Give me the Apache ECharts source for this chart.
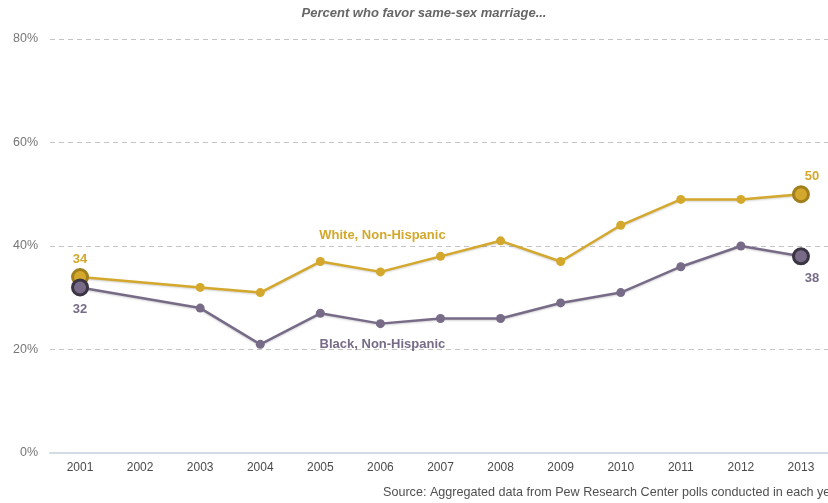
<!DOCTYPE html>
<html>
<head>
<meta charset="utf-8">
<script src="https://cdn.jsdelivr.net/npm/echarts@6/dist/echarts.min.js"></script>
<style>
html,body{margin:0;padding:0;background:#fff;overflow:hidden;}
#chart{width:840px;height:503px;}
</style>
</head>
<body>
<div id="chart"></div>
<script>
const years = ['2001','2002','2003','2004','2005','2006','2007','2008','2009','2010','2011','2012','2013'];
const whiteValues = [34, null, 32, 31, 37, 35, 38, 41, 37, 44, 49, 49, 50];
const blackValues = [32, null, 28, 21, 27, 25, 26, 26, 29, 31, 36, 40, 38];
const yTicks = [0, 20, 40, 60, 80];
const whiteName = 'White, Non-Hispanic';
const blackName = 'Black, Non-Hispanic';
const titleText = 'Percent who favor same-sex marriage...';
const sourceText = 'Source: Aggregated data from Pew Research Center polls conducted in each year';

const GOLD = '#d4a82c';
const GOLD_DARK = '#a07f1c';
const PURPLE = '#776b88';
const PURPLE_DARK = '#3b3443';
const FONT = '"Liberation Sans", Arial, Helvetica, sans-serif';

function buildData(values, color, darkColor, nameLabelIdx, nameText, nameOffsetY, endPos, endDist) {
  const last = values.length - 1;
  return values.map((v, i) => {
    if (v === null) return null;
    const item = { value: v };
    if (i === 0 || i === last) {
      item.symbolSize = 15;
      item.itemStyle = { color: color, borderColor: darkColor, borderWidth: 3 };
      item.label = {
        show: true,
        position: endPos,
        distance: endDist,
        color: color,
        fontWeight: 'bold',
        fontSize: 13,
        fontFamily: FONT,
        formatter: String(v),
        offset: i === last ? [11, 0] : [0, 0]
      };
    } else if (i === nameLabelIdx) {
      item.label = {
        show: true,
        position: 'inside',
        offset: [2, nameOffsetY],
        color: color,
        fontWeight: 'bold',
        fontSize: 13,
        fontFamily: FONT,
        formatter: nameText
      };
    }
    return item;
  });
}

const chart = echarts.init(document.getElementById('chart'), null, { renderer: 'canvas' });
const option = {
  animation: false,
  backgroundColor: '#ffffff',
  grid: { left: 50, right: 9, top: 39, bottom: 50, containLabel: false },
  xAxis: {
    type: 'category',
    data: years,
    boundaryGap: true,
    axisLine: { show: true, lineStyle: { color: '#d3dbe6', width: 2 } },
    axisTick: { show: false },
    axisLabel: { color: '#4a4a4a', fontSize: 12, fontFamily: FONT, margin: 9 },
    splitLine: { show: false }
  },
  yAxis: {
    type: 'value',
    min: yTicks[0],
    max: yTicks[yTicks.length - 1],
    interval: 20,
    axisLine: { show: false },
    axisTick: { show: false },
    axisLabel: {
      color: '#777777',
      fontSize: 12.5,
      fontFamily: FONT,
      margin: 12,
      formatter: v => v + '%'
    },
    splitLine: {
      show: true,
      lineStyle: { color: '#c4c4c4', type: [5, 4], width: 1 }
    }
  },
  series: [
    {
      name: whiteName,
      type: 'line',
      connectNulls: true,
      data: buildData(whiteValues, GOLD, GOLD_DARK, 5, whiteName, -36, 'top', 2),
      symbol: 'circle',
      symbolSize: 9,
      itemStyle: { color: GOLD },
      lineStyle: { color: GOLD, width: 2.5, shadowColor: 'rgba(0,0,0,0.18)', shadowBlur: 2, shadowOffsetY: 1 },
      z: 3
    },
    {
      name: blackName,
      type: 'line',
      connectNulls: true,
      data: buildData(blackValues, PURPLE, PURPLE_DARK, 5, blackName, 21, 'bottom', 7),
      symbol: 'circle',
      symbolSize: 9,
      itemStyle: { color: PURPLE },
      lineStyle: { color: PURPLE, width: 2.5, shadowColor: 'rgba(0,0,0,0.18)', shadowBlur: 2, shadowOffsetY: 1 },
      z: 4
    }
  ],
  graphic: [
    {
      type: 'text',
      x: 424,
      y: 13,
      style: {
        text: titleText,
        fontFamily: FONT,
        fontSize: 13,
        fontWeight: 'bold',
        fontStyle: 'italic',
        fill: '#666666',
        align: 'center',
        verticalAlign: 'middle'
      }
    },
    {
      type: 'text',
      x: 383,
      y: 493,
      style: {
        text: sourceText,
        fontFamily: FONT,
        fontSize: 12.6,
        fill: '#505050',
        align: 'left',
        verticalAlign: 'middle'
      }
    }
  ]
};
chart.setOption(option);
</script>
</body>
</html>
